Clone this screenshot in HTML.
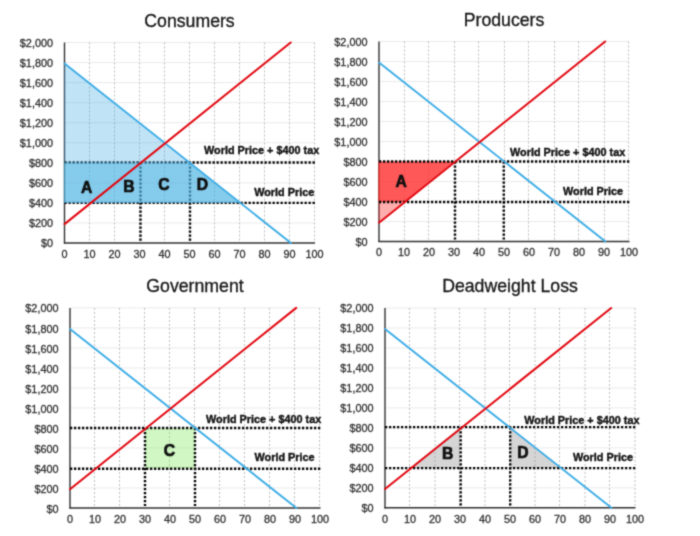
<!DOCTYPE html>
<html><head><meta charset="utf-8"><title>Tariff charts</title>
<style>
html,body{margin:0;padding:0;background:#fff;}
svg{display:block;}
text{font-family:'Liberation Sans', Arial, Helvetica, sans-serif;}
.ax{font-size:10.85px;fill:#303030;stroke:#303030;stroke-width:0.3px;}
.ti{font-size:17.7px;fill:#161616;stroke:#161616;stroke-width:0.3px;}
.lt{font-size:16.9px;font-weight:bold;fill:#111;stroke:#0a0a0a;stroke-width:0.7px;stroke-linejoin:round;}
.wp{font-size:10.85px;font-weight:bold;fill:#141414;stroke:#141414;stroke-width:0.4px;}
.dot{stroke:#000;stroke-width:2.4;stroke-dasharray:2.3 1.7;}
</style></head><body>
<svg width="700" height="536" viewBox="0 0 700 536">
<defs><filter id="soft" x="0" y="0" width="700" height="536" filterUnits="userSpaceOnUse" color-interpolation-filters="sRGB"><feConvolveMatrix order="3" kernelMatrix="1 3 1 3 12 3 1 3 1" edgeMode="duplicate" preserveAlpha="true"/></filter></defs>
<g filter="url(#soft)">
<rect x="-10" y="-10" width="720" height="556" fill="#fff"/>
<g id="c1">
<line x1="64.50" y1="222.95" x2="314.50" y2="222.95" stroke="#eaeaea" stroke-width="1"/>
<line x1="64.50" y1="202.90" x2="314.50" y2="202.90" stroke="#eaeaea" stroke-width="1"/>
<line x1="64.50" y1="182.85" x2="314.50" y2="182.85" stroke="#eaeaea" stroke-width="1"/>
<line x1="64.50" y1="162.80" x2="314.50" y2="162.80" stroke="#eaeaea" stroke-width="1"/>
<line x1="64.50" y1="142.75" x2="314.50" y2="142.75" stroke="#eaeaea" stroke-width="1"/>
<line x1="64.50" y1="122.70" x2="314.50" y2="122.70" stroke="#eaeaea" stroke-width="1"/>
<line x1="64.50" y1="102.65" x2="314.50" y2="102.65" stroke="#eaeaea" stroke-width="1"/>
<line x1="64.50" y1="82.60" x2="314.50" y2="82.60" stroke="#eaeaea" stroke-width="1"/>
<line x1="64.50" y1="62.55" x2="314.50" y2="62.55" stroke="#eaeaea" stroke-width="1"/>
<line x1="64.50" y1="42.50" x2="314.50" y2="42.50" stroke="#eaeaea" stroke-width="1"/>
<line x1="89.50" y1="42.50" x2="89.50" y2="243.00" stroke="#bdbdbd" stroke-width="1" stroke-dasharray="2 2"/>
<line x1="114.50" y1="42.50" x2="114.50" y2="243.00" stroke="#bdbdbd" stroke-width="1" stroke-dasharray="2 2"/>
<line x1="139.50" y1="42.50" x2="139.50" y2="243.00" stroke="#bdbdbd" stroke-width="1" stroke-dasharray="2 2"/>
<line x1="164.50" y1="42.50" x2="164.50" y2="243.00" stroke="#bdbdbd" stroke-width="1" stroke-dasharray="2 2"/>
<line x1="189.50" y1="42.50" x2="189.50" y2="243.00" stroke="#bdbdbd" stroke-width="1" stroke-dasharray="2 2"/>
<line x1="214.50" y1="42.50" x2="214.50" y2="243.00" stroke="#bdbdbd" stroke-width="1" stroke-dasharray="2 2"/>
<line x1="239.50" y1="42.50" x2="239.50" y2="243.00" stroke="#bdbdbd" stroke-width="1" stroke-dasharray="2 2"/>
<line x1="264.50" y1="42.50" x2="264.50" y2="243.00" stroke="#bdbdbd" stroke-width="1" stroke-dasharray="2 2"/>
<line x1="289.50" y1="42.50" x2="289.50" y2="243.00" stroke="#bdbdbd" stroke-width="1" stroke-dasharray="2 2"/>
<line x1="314.50" y1="42.50" x2="314.50" y2="243.00" stroke="#bdbdbd" stroke-width="1" stroke-dasharray="2 2"/>
<line x1="64.50" y1="42.50" x2="64.50" y2="243.60" stroke="#303030" stroke-width="1.4"/>
<line x1="63.90" y1="243.00" x2="315.00" y2="243.00" stroke="#303030" stroke-width="1.4"/>
<line x1="64.50" y1="162.50" x2="315.00" y2="162.50" class="dot"/>
<line x1="64.50" y1="202.90" x2="315.00" y2="202.90" class="dot"/>
<line x1="140.50" y1="162.50" x2="140.50" y2="241.00" class="dot"/>
<line x1="190.00" y1="162.50" x2="190.00" y2="241.00" class="dot"/>
<polygon points="63.85,63.55 63.85,202.90 239.50,202.90" fill="rgba(74,172,228,0.34)"/>
<polygon points="63.85,162.50 189.50,162.50 239.50,202.90 63.85,202.90" fill="rgba(78,181,225,0.52)"/>
<line x1="64.50" y1="63.55" x2="290.90" y2="243.00" stroke="#3cace6" stroke-width="1.9" stroke-linecap="round"/>
<line x1="64.50" y1="224.15" x2="290.70" y2="42.50" stroke="#e2060f" stroke-width="2.0" stroke-linecap="round"/>
<text x="53.00" y="247" class="ax" text-anchor="end">$0</text>
<text x="53.00" y="227" class="ax" text-anchor="end">$200</text>
<text x="53.00" y="207" class="ax" text-anchor="end">$400</text>
<text x="53.00" y="187" class="ax" text-anchor="end">$600</text>
<text x="53.00" y="167" class="ax" text-anchor="end">$800</text>
<text x="53.00" y="147" class="ax" text-anchor="end">$1,000</text>
<text x="53.00" y="127" class="ax" text-anchor="end">$1,200</text>
<text x="53.00" y="107" class="ax" text-anchor="end">$1,400</text>
<text x="53.00" y="87" class="ax" text-anchor="end">$1,600</text>
<text x="53.00" y="67" class="ax" text-anchor="end">$1,800</text>
<text x="53.00" y="47" class="ax" text-anchor="end">$2,000</text>
<text x="64.50" y="258" class="ax" text-anchor="middle">0</text>
<text x="89.50" y="258" class="ax" text-anchor="middle">10</text>
<text x="114.50" y="258" class="ax" text-anchor="middle">20</text>
<text x="139.50" y="258" class="ax" text-anchor="middle">30</text>
<text x="164.50" y="258" class="ax" text-anchor="middle">40</text>
<text x="189.50" y="258" class="ax" text-anchor="middle">50</text>
<text x="214.50" y="258" class="ax" text-anchor="middle">60</text>
<text x="239.50" y="258" class="ax" text-anchor="middle">70</text>
<text x="264.50" y="258" class="ax" text-anchor="middle">80</text>
<text x="289.50" y="258" class="ax" text-anchor="middle">90</text>
<text x="314.50" y="258" class="ax" text-anchor="middle">100</text>
<text x="189.50" y="26.70" class="ti" text-anchor="middle">Consumers</text>
<text transform="translate(86.75 192.90) scale(0.93 1)" class="lt" text-anchor="middle">A</text>
<text transform="translate(129.00 192.40) scale(0.93 1)" class="lt" text-anchor="middle">B</text>
<text transform="translate(164.00 190.40) scale(0.93 1)" class="lt" text-anchor="middle">C</text>
<text transform="translate(202.30 190.40) scale(0.93 1)" class="lt" text-anchor="middle">D</text>
<text x="204.00" y="154.20" class="wp">World Price + $400 tax</text>
<text x="254.20" y="196.30" class="wp">World Price</text>
</g>
<g id="c2">
<line x1="379.00" y1="221.50" x2="629.00" y2="221.50" stroke="#eaeaea" stroke-width="1"/>
<line x1="379.00" y1="201.50" x2="629.00" y2="201.50" stroke="#eaeaea" stroke-width="1"/>
<line x1="379.00" y1="181.50" x2="629.00" y2="181.50" stroke="#eaeaea" stroke-width="1"/>
<line x1="379.00" y1="161.50" x2="629.00" y2="161.50" stroke="#eaeaea" stroke-width="1"/>
<line x1="379.00" y1="141.50" x2="629.00" y2="141.50" stroke="#eaeaea" stroke-width="1"/>
<line x1="379.00" y1="121.50" x2="629.00" y2="121.50" stroke="#eaeaea" stroke-width="1"/>
<line x1="379.00" y1="101.50" x2="629.00" y2="101.50" stroke="#eaeaea" stroke-width="1"/>
<line x1="379.00" y1="81.50" x2="629.00" y2="81.50" stroke="#eaeaea" stroke-width="1"/>
<line x1="379.00" y1="61.50" x2="629.00" y2="61.50" stroke="#eaeaea" stroke-width="1"/>
<line x1="379.00" y1="41.50" x2="629.00" y2="41.50" stroke="#eaeaea" stroke-width="1"/>
<line x1="404.50" y1="41.50" x2="404.50" y2="241.50" stroke="#bdbdbd" stroke-width="1" stroke-dasharray="2 2"/>
<line x1="428.50" y1="41.50" x2="428.50" y2="241.50" stroke="#bdbdbd" stroke-width="1" stroke-dasharray="2 2"/>
<line x1="454.50" y1="41.50" x2="454.50" y2="241.50" stroke="#bdbdbd" stroke-width="1" stroke-dasharray="2 2"/>
<line x1="478.50" y1="41.50" x2="478.50" y2="241.50" stroke="#bdbdbd" stroke-width="1" stroke-dasharray="2 2"/>
<line x1="504.50" y1="41.50" x2="504.50" y2="241.50" stroke="#bdbdbd" stroke-width="1" stroke-dasharray="2 2"/>
<line x1="528.50" y1="41.50" x2="528.50" y2="241.50" stroke="#bdbdbd" stroke-width="1" stroke-dasharray="2 2"/>
<line x1="554.50" y1="41.50" x2="554.50" y2="241.50" stroke="#bdbdbd" stroke-width="1" stroke-dasharray="2 2"/>
<line x1="578.50" y1="41.50" x2="578.50" y2="241.50" stroke="#bdbdbd" stroke-width="1" stroke-dasharray="2 2"/>
<line x1="604.50" y1="41.50" x2="604.50" y2="241.50" stroke="#bdbdbd" stroke-width="1" stroke-dasharray="2 2"/>
<line x1="628.50" y1="41.50" x2="628.50" y2="241.50" stroke="#bdbdbd" stroke-width="1" stroke-dasharray="2 2"/>
<line x1="379.00" y1="41.50" x2="379.00" y2="242.10" stroke="#303030" stroke-width="1.4"/>
<line x1="378.40" y1="241.50" x2="629.50" y2="241.50" stroke="#303030" stroke-width="1.4"/>
<polygon points="378.35,222.50 378.35,161.50 454.00,161.50" fill="rgba(255,50,50,0.40)"/>
<polygon points="378.35,202.00 378.35,161.50 454.00,161.50 404.00,202.00" fill="rgba(255,40,40,0.64)"/>
<line x1="379.00" y1="161.50" x2="629.50" y2="161.50" class="dot"/>
<line x1="379.00" y1="202.00" x2="629.50" y2="202.00" class="dot"/>
<line x1="455.00" y1="161.50" x2="455.00" y2="239.50" class="dot"/>
<line x1="503.75" y1="161.50" x2="503.75" y2="239.50" class="dot"/>
<line x1="379.00" y1="62.50" x2="605.40" y2="241.50" stroke="#3cace6" stroke-width="1.9" stroke-linecap="round"/>
<line x1="379.00" y1="222.70" x2="605.20" y2="41.50" stroke="#e2060f" stroke-width="2.0" stroke-linecap="round"/>
<text x="367.50" y="246" class="ax" text-anchor="end">$0</text>
<text x="367.50" y="226" class="ax" text-anchor="end">$200</text>
<text x="367.50" y="206" class="ax" text-anchor="end">$400</text>
<text x="367.50" y="186" class="ax" text-anchor="end">$600</text>
<text x="367.50" y="166" class="ax" text-anchor="end">$800</text>
<text x="367.50" y="146" class="ax" text-anchor="end">$1,000</text>
<text x="367.50" y="126" class="ax" text-anchor="end">$1,200</text>
<text x="367.50" y="106" class="ax" text-anchor="end">$1,400</text>
<text x="367.50" y="86" class="ax" text-anchor="end">$1,600</text>
<text x="367.50" y="66" class="ax" text-anchor="end">$1,800</text>
<text x="367.50" y="46" class="ax" text-anchor="end">$2,000</text>
<text x="379.00" y="256" class="ax" text-anchor="middle">0</text>
<text x="404.00" y="256" class="ax" text-anchor="middle">10</text>
<text x="429.00" y="256" class="ax" text-anchor="middle">20</text>
<text x="454.00" y="256" class="ax" text-anchor="middle">30</text>
<text x="479.00" y="256" class="ax" text-anchor="middle">40</text>
<text x="504.00" y="256" class="ax" text-anchor="middle">50</text>
<text x="529.00" y="256" class="ax" text-anchor="middle">60</text>
<text x="554.00" y="256" class="ax" text-anchor="middle">70</text>
<text x="579.00" y="256" class="ax" text-anchor="middle">80</text>
<text x="604.00" y="256" class="ax" text-anchor="middle">90</text>
<text x="629.00" y="256" class="ax" text-anchor="middle">100</text>
<text x="504.00" y="25.70" class="ti" text-anchor="middle">Producers</text>
<text transform="translate(401.25 186.90) scale(0.93 1)" class="lt" text-anchor="middle">A</text>
<text x="510.00" y="156.00" class="wp">World Price + $400 tax</text>
<text x="563.00" y="194.80" class="wp">World Price</text>
</g>
<g id="c3">
<line x1="70.00" y1="487.99" x2="320.00" y2="487.99" stroke="#eaeaea" stroke-width="1"/>
<line x1="70.00" y1="467.98" x2="320.00" y2="467.98" stroke="#eaeaea" stroke-width="1"/>
<line x1="70.00" y1="447.97" x2="320.00" y2="447.97" stroke="#eaeaea" stroke-width="1"/>
<line x1="70.00" y1="427.96" x2="320.00" y2="427.96" stroke="#eaeaea" stroke-width="1"/>
<line x1="70.00" y1="407.95" x2="320.00" y2="407.95" stroke="#eaeaea" stroke-width="1"/>
<line x1="70.00" y1="387.94" x2="320.00" y2="387.94" stroke="#eaeaea" stroke-width="1"/>
<line x1="70.00" y1="367.93" x2="320.00" y2="367.93" stroke="#eaeaea" stroke-width="1"/>
<line x1="70.00" y1="347.92" x2="320.00" y2="347.92" stroke="#eaeaea" stroke-width="1"/>
<line x1="70.00" y1="327.91" x2="320.00" y2="327.91" stroke="#eaeaea" stroke-width="1"/>
<line x1="70.00" y1="307.90" x2="320.00" y2="307.90" stroke="#eaeaea" stroke-width="1"/>
<line x1="94.50" y1="307.90" x2="94.50" y2="508.00" stroke="#bdbdbd" stroke-width="1" stroke-dasharray="2 2"/>
<line x1="119.50" y1="307.90" x2="119.50" y2="508.00" stroke="#bdbdbd" stroke-width="1" stroke-dasharray="2 2"/>
<line x1="144.50" y1="307.90" x2="144.50" y2="508.00" stroke="#bdbdbd" stroke-width="1" stroke-dasharray="2 2"/>
<line x1="169.50" y1="307.90" x2="169.50" y2="508.00" stroke="#bdbdbd" stroke-width="1" stroke-dasharray="2 2"/>
<line x1="194.50" y1="307.90" x2="194.50" y2="508.00" stroke="#bdbdbd" stroke-width="1" stroke-dasharray="2 2"/>
<line x1="219.50" y1="307.90" x2="219.50" y2="508.00" stroke="#bdbdbd" stroke-width="1" stroke-dasharray="2 2"/>
<line x1="244.50" y1="307.90" x2="244.50" y2="508.00" stroke="#bdbdbd" stroke-width="1" stroke-dasharray="2 2"/>
<line x1="269.50" y1="307.90" x2="269.50" y2="508.00" stroke="#bdbdbd" stroke-width="1" stroke-dasharray="2 2"/>
<line x1="294.50" y1="307.90" x2="294.50" y2="508.00" stroke="#bdbdbd" stroke-width="1" stroke-dasharray="2 2"/>
<line x1="319.50" y1="307.90" x2="319.50" y2="508.00" stroke="#bdbdbd" stroke-width="1" stroke-dasharray="2 2"/>
<line x1="70.00" y1="307.90" x2="70.00" y2="508.60" stroke="#303030" stroke-width="1.4"/>
<line x1="69.40" y1="508.00" x2="320.50" y2="508.00" stroke="#303030" stroke-width="1.4"/>
<polygon points="145.00,468.78 145.00,427.96 195.00,427.96 195.00,468.78" fill="rgba(138,235,108,0.4)"/>
<line x1="70.00" y1="427.96" x2="320.50" y2="427.96" class="dot"/>
<line x1="70.00" y1="468.78" x2="320.50" y2="468.78" class="dot"/>
<line x1="145.00" y1="427.96" x2="145.00" y2="506.00" class="dot"/>
<line x1="195.00" y1="427.96" x2="195.00" y2="506.00" class="dot"/>
<line x1="70.00" y1="328.91" x2="296.40" y2="508.00" stroke="#3cace6" stroke-width="1.9" stroke-linecap="round"/>
<line x1="70.00" y1="489.19" x2="296.20" y2="307.90" stroke="#e2060f" stroke-width="2.0" stroke-linecap="round"/>
<text x="58.50" y="513" class="ax" text-anchor="end">$0</text>
<text x="58.50" y="493" class="ax" text-anchor="end">$200</text>
<text x="58.50" y="473" class="ax" text-anchor="end">$400</text>
<text x="58.50" y="453" class="ax" text-anchor="end">$600</text>
<text x="58.50" y="433" class="ax" text-anchor="end">$800</text>
<text x="58.50" y="413" class="ax" text-anchor="end">$1,000</text>
<text x="58.50" y="393" class="ax" text-anchor="end">$1,200</text>
<text x="58.50" y="373" class="ax" text-anchor="end">$1,400</text>
<text x="58.50" y="353" class="ax" text-anchor="end">$1,600</text>
<text x="58.50" y="333" class="ax" text-anchor="end">$1,800</text>
<text x="58.50" y="312" class="ax" text-anchor="end">$2,000</text>
<text x="70.00" y="523" class="ax" text-anchor="middle">0</text>
<text x="95.00" y="523" class="ax" text-anchor="middle">10</text>
<text x="120.00" y="523" class="ax" text-anchor="middle">20</text>
<text x="145.00" y="523" class="ax" text-anchor="middle">30</text>
<text x="170.00" y="523" class="ax" text-anchor="middle">40</text>
<text x="195.00" y="523" class="ax" text-anchor="middle">50</text>
<text x="220.00" y="523" class="ax" text-anchor="middle">60</text>
<text x="245.00" y="523" class="ax" text-anchor="middle">70</text>
<text x="270.00" y="523" class="ax" text-anchor="middle">80</text>
<text x="295.00" y="523" class="ax" text-anchor="middle">90</text>
<text x="320.00" y="523" class="ax" text-anchor="middle">100</text>
<text x="195.00" y="292.10" class="ti" text-anchor="middle">Government</text>
<text transform="translate(169.50 455.90) scale(0.93 1)" class="lt" text-anchor="middle">C</text>
<text x="206.00" y="423.10" class="wp">World Price + $400 tax</text>
<text x="254.50" y="460.80" class="wp">World Price</text>
</g>
<g id="c4">
<line x1="385.00" y1="487.82" x2="635.00" y2="487.82" stroke="#eaeaea" stroke-width="1"/>
<line x1="385.00" y1="467.84" x2="635.00" y2="467.84" stroke="#eaeaea" stroke-width="1"/>
<line x1="385.00" y1="447.86" x2="635.00" y2="447.86" stroke="#eaeaea" stroke-width="1"/>
<line x1="385.00" y1="427.88" x2="635.00" y2="427.88" stroke="#eaeaea" stroke-width="1"/>
<line x1="385.00" y1="407.90" x2="635.00" y2="407.90" stroke="#eaeaea" stroke-width="1"/>
<line x1="385.00" y1="387.92" x2="635.00" y2="387.92" stroke="#eaeaea" stroke-width="1"/>
<line x1="385.00" y1="367.94" x2="635.00" y2="367.94" stroke="#eaeaea" stroke-width="1"/>
<line x1="385.00" y1="347.96" x2="635.00" y2="347.96" stroke="#eaeaea" stroke-width="1"/>
<line x1="385.00" y1="327.98" x2="635.00" y2="327.98" stroke="#eaeaea" stroke-width="1"/>
<line x1="385.00" y1="308.00" x2="635.00" y2="308.00" stroke="#eaeaea" stroke-width="1"/>
<line x1="409.50" y1="308.00" x2="409.50" y2="507.80" stroke="#bdbdbd" stroke-width="1" stroke-dasharray="2 2"/>
<line x1="435.00" y1="308.00" x2="435.00" y2="507.80" stroke="#bdbdbd" stroke-width="1" stroke-dasharray="2 2"/>
<line x1="459.50" y1="308.00" x2="459.50" y2="507.80" stroke="#bdbdbd" stroke-width="1" stroke-dasharray="2 2"/>
<line x1="485.00" y1="308.00" x2="485.00" y2="507.80" stroke="#bdbdbd" stroke-width="1" stroke-dasharray="2 2"/>
<line x1="509.50" y1="308.00" x2="509.50" y2="507.80" stroke="#bdbdbd" stroke-width="1" stroke-dasharray="2 2"/>
<line x1="535.00" y1="308.00" x2="535.00" y2="507.80" stroke="#bdbdbd" stroke-width="1" stroke-dasharray="2 2"/>
<line x1="559.50" y1="308.00" x2="559.50" y2="507.80" stroke="#bdbdbd" stroke-width="1" stroke-dasharray="2 2"/>
<line x1="585.00" y1="308.00" x2="585.00" y2="507.80" stroke="#bdbdbd" stroke-width="1" stroke-dasharray="2 2"/>
<line x1="609.50" y1="308.00" x2="609.50" y2="507.80" stroke="#bdbdbd" stroke-width="1" stroke-dasharray="2 2"/>
<line x1="635.00" y1="308.00" x2="635.00" y2="507.80" stroke="#bdbdbd" stroke-width="1" stroke-dasharray="2 2"/>
<line x1="385.00" y1="308.00" x2="385.00" y2="508.40" stroke="#303030" stroke-width="1.4"/>
<line x1="384.40" y1="507.80" x2="635.50" y2="507.80" stroke="#303030" stroke-width="1.4"/>
<polygon points="410.00,468.09 460.00,427.13 460.00,468.09" fill="rgba(150,150,150,0.40)"/>
<polygon points="510.00,468.09 510.00,427.13 560.00,468.09" fill="rgba(150,150,150,0.40)"/>
<line x1="385.00" y1="427.13" x2="635.50" y2="427.13" class="dot"/>
<line x1="385.00" y1="468.09" x2="635.50" y2="468.09" class="dot"/>
<line x1="460.70" y1="427.13" x2="460.70" y2="505.80" class="dot"/>
<line x1="510.20" y1="427.13" x2="510.20" y2="505.80" class="dot"/>
<line x1="385.00" y1="328.98" x2="611.40" y2="507.80" stroke="#3cace6" stroke-width="1.9" stroke-linecap="round"/>
<line x1="385.00" y1="489.02" x2="611.20" y2="308.00" stroke="#e2060f" stroke-width="2.0" stroke-linecap="round"/>
<text x="373.50" y="512" class="ax" text-anchor="end">$0</text>
<text x="373.50" y="492" class="ax" text-anchor="end">$200</text>
<text x="373.50" y="472" class="ax" text-anchor="end">$400</text>
<text x="373.50" y="452" class="ax" text-anchor="end">$600</text>
<text x="373.50" y="432" class="ax" text-anchor="end">$800</text>
<text x="373.50" y="412" class="ax" text-anchor="end">$1,000</text>
<text x="373.50" y="392" class="ax" text-anchor="end">$1,200</text>
<text x="373.50" y="372" class="ax" text-anchor="end">$1,400</text>
<text x="373.50" y="352" class="ax" text-anchor="end">$1,600</text>
<text x="373.50" y="332" class="ax" text-anchor="end">$1,800</text>
<text x="373.50" y="312" class="ax" text-anchor="end">$2,000</text>
<text x="385.00" y="523" class="ax" text-anchor="middle">0</text>
<text x="410.00" y="523" class="ax" text-anchor="middle">10</text>
<text x="435.00" y="523" class="ax" text-anchor="middle">20</text>
<text x="460.00" y="523" class="ax" text-anchor="middle">30</text>
<text x="485.00" y="523" class="ax" text-anchor="middle">40</text>
<text x="510.00" y="523" class="ax" text-anchor="middle">50</text>
<text x="535.00" y="523" class="ax" text-anchor="middle">60</text>
<text x="560.00" y="523" class="ax" text-anchor="middle">70</text>
<text x="585.00" y="523" class="ax" text-anchor="middle">80</text>
<text x="610.00" y="523" class="ax" text-anchor="middle">90</text>
<text x="635.00" y="523" class="ax" text-anchor="middle">100</text>
<text x="510.00" y="292.20" class="ti" text-anchor="middle">Deadweight Loss</text>
<text transform="translate(447.70 458.90) scale(0.93 1)" class="lt" text-anchor="middle">B</text>
<text transform="translate(522.80 457.90) scale(0.93 1)" class="lt" text-anchor="middle">D</text>
<text x="524.30" y="423.50" class="wp">World Price + $400 tax</text>
<text x="572.90" y="460.80" class="wp">World Price</text>
</g>
</g>
</svg>
</body></html>
